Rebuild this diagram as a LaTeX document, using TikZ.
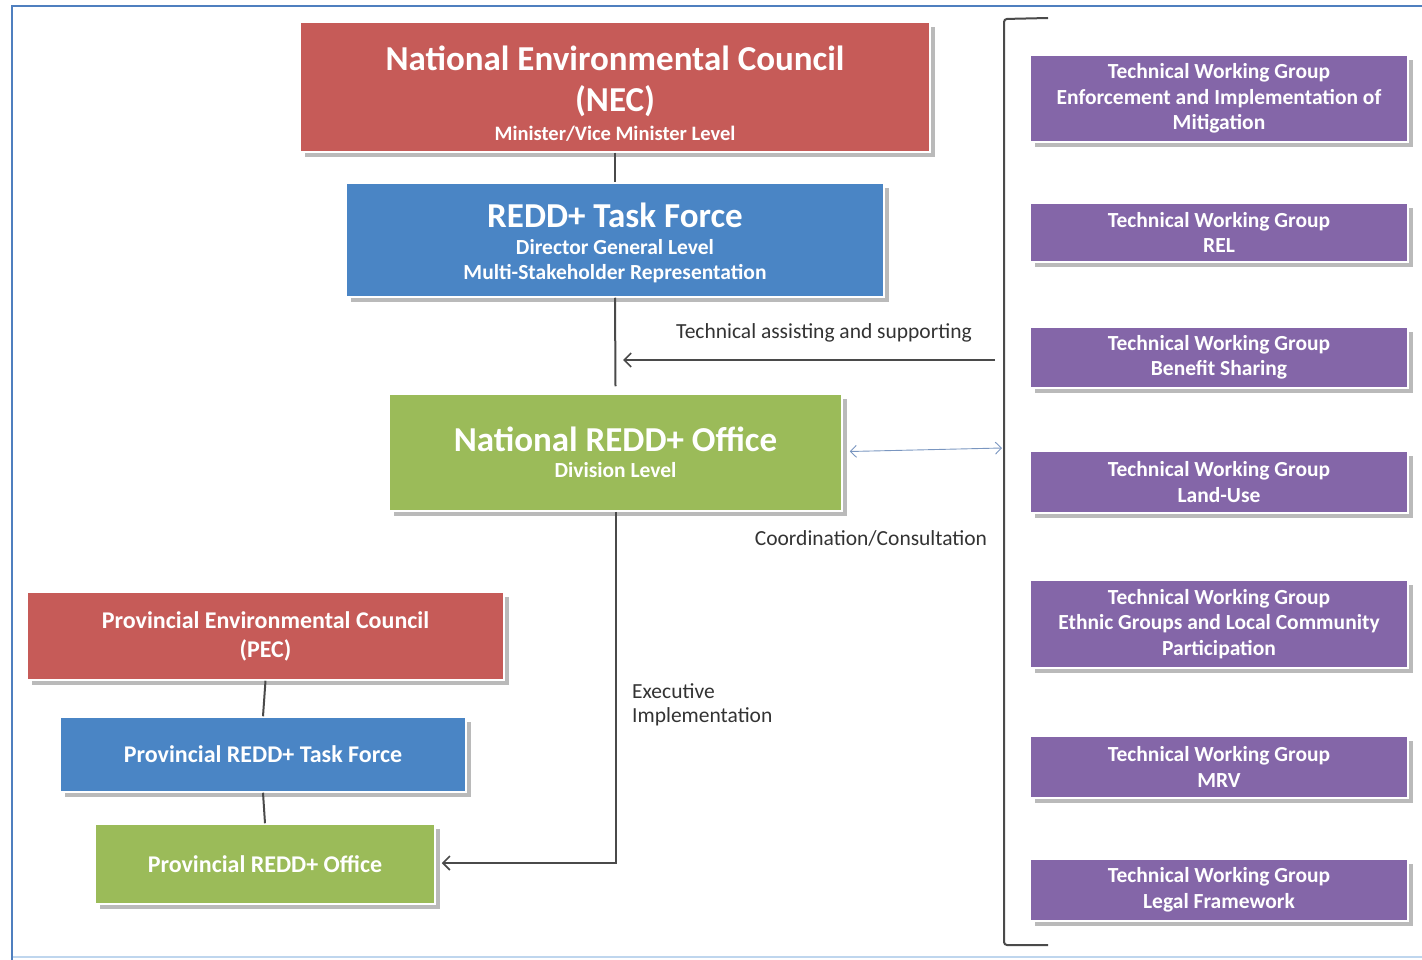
\documentclass[tikz,border=0pt]{standalone}
\usepackage{fontspec}
\setmainfont{Carlito}
\usetikzlibrary{arrows.meta,shadows,calc}
\definecolor{necred}{HTML}{C65B58}
\definecolor{tfblue}{HTML}{4A85C5}
\definecolor{offgreen}{HTML}{9BBB59}
\definecolor{twgpurple}{HTML}{8466A8}
\definecolor{framedark}{HTML}{4F7FBF}
\definecolor{framelight}{HTML}{BFD6EE}
\definecolor{conngray}{HTML}{4A4A4A}
\definecolor{dblue}{HTML}{7A96C0}
\tikzset{
  box/.style={rectangle, draw=white, line width=1.5pt, text=white, align=center, inner sep=0pt,
    drop shadow={shadow xshift=5pt, shadow yshift=-5pt, fill=black!45, opacity=0.6}},
  twg/.style={box, fill=twgpurple, minimum width=378pt, font=\fontsize{21.5}{25.5}\selectfont\bfseries},
  conn/.style={draw=conngray, line width=2pt},
  barb/.style={-{Straight Barb[length=7pt,width=14pt,line width=1.6pt]}},
  lbl/.style={text=black!80, inner sep=0pt, font=\fontsize{21.5}{24}\selectfont},
  prov/.style={box, font=\fontsize{24}{29}\selectfont\bfseries},
}
\newcommand{\bigtitle}{\fontsize{35}{40}\selectfont}
\begin{document}
\begin{tikzpicture}[x=1pt,y=-1pt]
\useasboundingbox (0,0) rectangle (1422,960);
% frame
\draw[framelight, line width=1.5pt] (12,957) -- (1422,957);
\draw[framedark, line width=2.5pt] (12,960) -- (12,6) -- (1422,6);

% national boxes
\node[box, fill=necred, minimum width=630pt, minimum height=130pt,
      font=\fontsize{35}{41}\selectfont\bfseries] (nec) at (615,87)
  {\rule{0pt}{37pt}National Environmental Council\\(NEC)\\[-12pt]
   {\fontsize{20.5}{25}\selectfont Minister/Vice Minister Level}};
\node[box, fill=tfblue, minimum width=538pt, minimum height=114pt,
      font=\fontsize{21.5}{25}\selectfont\bfseries] (tf) at (615,240)
  {{\bigtitle\rule{0pt}{31pt}REDD+ Task Force}\\[2pt]
   Director General Level\\
   Multi-Stakeholder Representation};
\node[box, fill=offgreen, minimum width=453pt, minimum height=117pt,
      font=\fontsize{21.5}{26}\selectfont\bfseries] (office) at (615.5,452.5)
  {{\bigtitle National REDD+ Office}\\
   Division Level};

% provincial boxes
\node[prov, fill=necred, minimum width=477pt, minimum height=88pt] (pec) at (265.5,636)
  {Provincial Environmental Council\\(PEC)};
\node[prov, fill=tfblue, minimum width=406pt, minimum height=75pt] (ptf) at (263,754.5)
  {Provincial REDD+ Task Force};
\node[prov, fill=offgreen, minimum width=340pt, minimum height=80pt] (po) at (265,864)
  {Provincial REDD+ Office};

% technical working groups
\node[twg, minimum height=87pt] (w1) at (1219,98.5)
  {Technical Working Group\\Enforcement and Implementation of\\Mitigation};
\node[twg, minimum height=59pt] (w2) at (1219,232.5)
  {Technical Working Group\\REL};
\node[twg, minimum height=61pt] (w3) at (1219,357.5)
  {Technical Working Group\\Benefit Sharing};
\node[twg, minimum height=62pt] (w4) at (1219,482)
  {Technical Working Group\\Land-Use};
\node[twg, minimum height=88pt] (w5) at (1219,624)
  {Technical Working Group\\Ethnic Groups and Local Community\\Participation};
\node[twg, minimum height=62pt] (w6) at (1219,767)
  {Technical Working Group\\MRV};
\node[twg, minimum height=62pt] (w7) at (1219,890)
  {Technical Working Group\\Legal Framework};

% bracket
\coordinate (bt) at (1048,18);
\coordinate (bb) at (1048,945);
\draw[conn, rounded corners=3pt] (bt) -- (1004,19) -- (1004,945) -- (bb);

% connectors
\draw[conn] (nec.south) -- (tf.north);
\draw[conn] (tf.south) -- ($(office.north)+(0,-7)$);
\coordinate (techR) at (995,360);
\coordinate (techL) at (623,360);
\draw[conn, barb] (techR) -- (techL);
\node[lbl] (techlbl) at (824,333) {Technical assisting and supporting};

\coordinate (coordR) at (1002,448);
\draw[draw=dblue, line width=0.9pt, {Straight Barb[length=6pt,width=12pt]}-{Straight Barb[length=6pt,width=12pt]}]
  ($(office.east)+(7,-1)$) -- (coordR);
\node[lbl] (coordlbl) at (871,538) {Coordination/Consultation};

\draw[conn, barb] (office.south) |- ($(po.east)+(6,-1)$);
\node[lbl, align=left, anchor=north west] (execlbl) at (632,683) {Executive\\Implementation};

\draw[conn] (pec.south) -- (ptf.north);
\draw[conn] (ptf.south) -- (po.north);
\end{tikzpicture}
\end{document}
